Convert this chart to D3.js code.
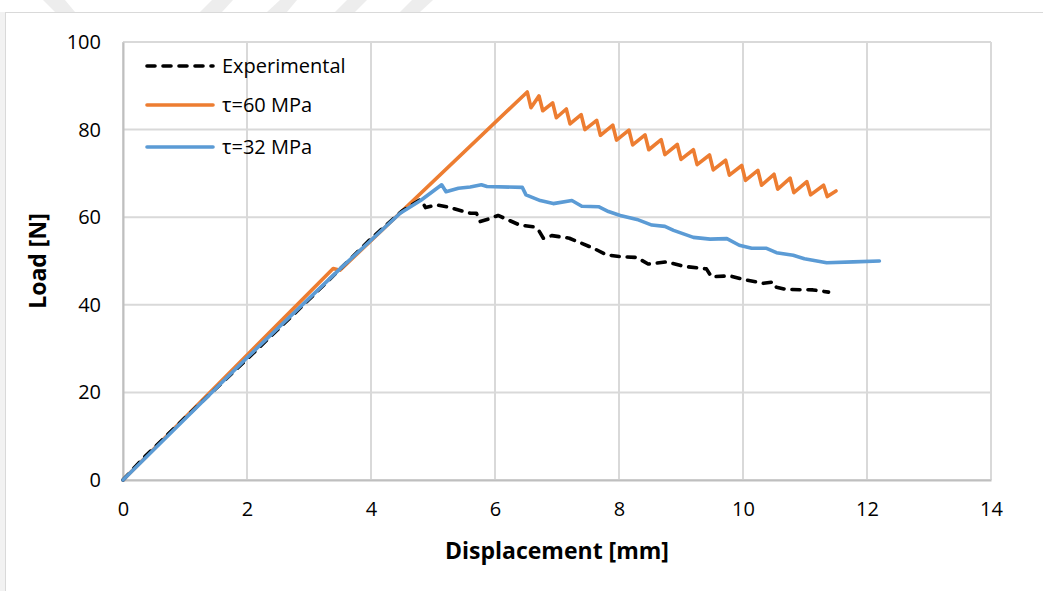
<!DOCTYPE html>
<html>
<head>
<meta charset="utf-8">
<script src="https://cdn.jsdelivr.net/npm/d3@7"></script>
<style>
  body { margin: 0; background: #fff; }
  text { font-family: "Open Sans", "Noto Sans", sans-serif; fill: #000; }
</style>
</head>
<body>
<svg></svg>
<script>
const size = { w: 1043, h: 591 };
const margin = { t: 42, r: 52, b: 111, l: 123 };

// series (displacement mm, load N)
const experimental = [
	[0, 0], [0.3, 4.6], [1, 14.2], [2, 27.6], [3, 41.2], [4, 55.1], [4.5, 61.4], [4.79, 64.0],
	[4.84, 63.2], [4.88, 62.2], [5.06, 62.8], [5.22, 62.4], [5.6, 60.9], [5.7, 60.9], [5.76, 59.0],
	[5.92, 59.7], [6.05, 60.4], [6.4, 58.2], [6.62, 57.8], [6.7, 57.1], [6.78, 55.2], [6.92, 55.8],
	[7.2, 55.2], [7.59, 52.9], [7.8, 51.4], [8.02, 51.0], [8.29, 50.8], [8.47, 49.3], [8.77, 49.8],
	[9.04, 48.8], [9.41, 48.2], [9.49, 46.4], [9.79, 46.6], [10.0, 45.8], [10.33, 44.9], [10.49, 45.2],
	[10.54, 44.0], [10.7, 43.5], [11.13, 43.4], [11.38, 42.9]
];
const tau60 = [
	[0, 0], [3.39, 48.3], [3.5, 47.9], [6.52, 88.6], [6.58, 85.0],
	[6.71, 87.7], [6.77, 84.3], [6.93, 86.1], [6.99, 82.7], [7.15, 84.7], [7.21, 81.3],
	[7.39, 83.4], [7.45, 80.0], [7.64, 82.1], [7.7, 78.7], [7.9, 81.0], [7.96, 77.6],
	[8.16, 79.9], [8.22, 76.5], [8.42, 78.8], [8.48, 75.4], [8.68, 77.7], [8.74, 74.3],
	[8.94, 76.6], [9.0, 73.2], [9.2, 75.4], [9.26, 72.0], [9.46, 74.2], [9.52, 70.8],
	[9.72, 73.0], [9.78, 69.6], [9.98, 71.8], [10.04, 68.4], [10.24, 70.7], [10.3, 67.3],
	[10.5, 69.8], [10.56, 66.4], [10.76, 68.9], [10.82, 65.6], [11.03, 68.1], [11.09, 65.1],
	[11.3, 67.3], [11.36, 64.7], [11.5, 66.0]
];
const tau32 = [
	[0, 0], [2, 27.9], [3.5, 48.2], [4.47, 60.9], [4.8, 63.8], [5.14, 67.4], [5.21, 65.8],
	[5.41, 66.6], [5.6, 66.9], [5.78, 67.4], [5.87, 67.0], [6.44, 66.8], [6.5, 65.1],
	[6.73, 63.8], [6.94, 63.1], [7.24, 63.8], [7.4, 62.5], [7.67, 62.4], [7.83, 61.3],
	[8.02, 60.4], [8.29, 59.5], [8.53, 58.2], [8.74, 57.9], [8.88, 57.0], [9.2, 55.4],
	[9.47, 55.0], [9.74, 55.1], [9.94, 53.6], [10.14, 52.9], [10.38, 52.9], [10.54, 51.9],
	[10.81, 51.3], [10.99, 50.5], [11.35, 49.6], [11.78, 49.8], [12.2, 50.0]
];

const seriesNames = ["Experimental", "τ=60 MPa", "τ=32 MPa"];
const seriesColors = ["#000000", "#ED7D31", "#5B9BD5"];
const xTicks = [0, 2, 4, 6, 8, 10, 12, 14];
const yTicks = [0, 20, 40, 60, 80, 100];

const svg = d3.select("svg").attr("width", size.w).attr("height", size.h);

// faint page watermark at the top + chart area frame
const wm = svg.append("g").attr("fill", "#ededed");
[[43, 65, 75, 55], [212, 233, 222, 200], [280, 297, 287, 267], [347, 367, 355, 335], [412, 433, 420, 400]]
	.forEach(([a, b, c, d]) => {
		wm.append("polygon").attr("points", `${a},0 ${b},0 ${c},12 ${d},12`);
	});
svg.append("rect").attr("x", 0).attr("y", 12).attr("width", 5).attr("height", size.h - 12).attr("fill", "#f2f2f2");
svg.append("rect")
	.attr("x", 5.5).attr("y", 12.5).attr("width", size.w).attr("height", size.h)
	.attr("fill", "#fff").attr("stroke", "#d9d9d9");

const w = size.w - margin.l - margin.r;
const h = size.h - margin.t - margin.b;
const g = svg.append("g").attr("transform", `translate(${margin.l},${margin.t})`);

const x = d3.scaleLinear().domain([0, 14]).range([0, w]);
const y = d3.scaleLinear().domain([0, 100]).range([h, 0]);

// gridlines
g.append("g").selectAll("line").data(xTicks).join("line")
	.attr("x1", (d) => x(d)).attr("x2", (d) => x(d))
	.attr("y1", 0).attr("y2", h)
	.attr("stroke", "#d9d9d9").attr("stroke-width", 2);
g.append("g").selectAll("line").data(yTicks).join("line")
	.attr("x1", 0).attr("x2", w)
	.attr("y1", (d) => y(d)).attr("y2", (d) => y(d))
	.attr("stroke", "#d9d9d9").attr("stroke-width", 2);

// axes (labels only, lines are the grid)
const xAxis = g.append("g").attr("transform", `translate(0,${h})`)
	.call(d3.axisBottom(x).tickValues(xTicks).tickSize(0).tickPadding(22));
const yAxis = g.append("g")
	.call(d3.axisLeft(y).tickValues(yTicks).tickSize(0).tickPadding(22));
[xAxis, yAxis].forEach((a) => {
	a.select(".domain").attr("stroke", "#bfbfbf").attr("stroke-width", 2);
	a.selectAll("text").style("font-family", '"Open Sans", sans-serif').style("font-size", "20px").attr("fill", "#000");
});

// lines
const line = d3.line().x((d) => x(d[0])).y((d) => y(d[1]));
const allSeries = [experimental, tau60, tau32];
// orange first, then black dashed, then blue on top
[1, 0, 2].forEach((i) => {
	g.append("path")
		.datum(allSeries[i])
		.attr("fill", "none")
		.attr("stroke", seriesColors[i])
		.attr("stroke-width", 3.6)
		.attr("stroke-linejoin", "round")
		.attr("stroke-linecap", "round")
		.attr("stroke-dasharray", i === 0 ? "8,8" : null)
		.attr("d", line);
});

// legend
const legend = svg.append("g").attr("transform", "translate(145,66)");
seriesNames.forEach((name, i) => {
	const row = legend.append("g").attr("transform", `translate(0,${[0, 39, 81][i]})`);
	row.append("line").attr("x1", 2).attr("x2", 68).attr("y1", 0).attr("y2", 0)
		.attr("stroke", seriesColors[i]).attr("stroke-width", 3.6)
		.attr("stroke-linecap", "round")
		.attr("stroke-dasharray", i === 0 ? "8,8" : null);
	row.append("text").attr("x", 77).attr("y", 7).style("font-size", "20px").text(name);
});

// axis titles
svg.append("text")
	.attr("x", margin.l + w / 2).attr("y", 559)
	.attr("text-anchor", "middle")
	.style("font-size", "23px").style("font-weight", "bold")
	.text("Displacement [mm]");
svg.append("text")
	.attr("transform", `translate(46,${margin.t + h / 2}) rotate(-90)`)
	.attr("text-anchor", "middle")
	.style("font-size", "23px").style("font-weight", "bold")
	.text("Load [N]");
</script>
</body>
</html>
